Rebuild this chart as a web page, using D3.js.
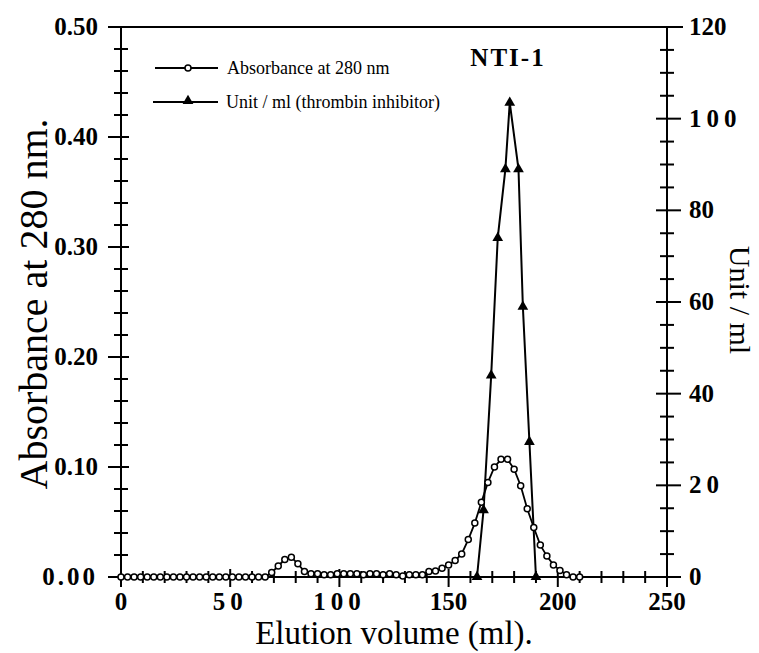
<!doctype html>
<html>
<head>
<meta charset="utf-8">
<title>NTI-1 elution profile</title>
<style>
  body { margin: 0; background: #fff; }
  svg text { font-family: "Liberation Serif", "Times New Roman", serif; fill: #000; }
  .tick-label { font-weight: bold; font-size: 25px; }
</style>
<script src="https://d3js.org/d3.v7.min.js"></script>
</head>
<body>
<svg width="759" height="653"></svg>
<script>

// elution volume (ml) of each absorbance fraction
var volume = [0, 3, 6, 9, 12, 15, 18, 21, 24, 27, 30, 33, 36, 39, 42, 45, 48, 51, 54, 57,
              60, 63, 66, 69, 72, 75, 78, 81, 84, 87, 90, 93, 96, 99, 102, 105, 108, 111, 114, 117,
              120, 123, 126, 129, 132, 135, 138, 141, 144, 147, 150, 153, 156, 159, 162, 165, 168, 171, 174, 177,
              180, 183, 186, 189, 192, 195, 198, 201, 204, 207, 210];
// absorbance at 280 nm
var absorbance = [0, 0, 0, 0, 0, 0, 0, 0, 0, 0, 0, 0, 0, 0, 0, 0, 0, 0, 0, 0,
                  0, 0, 0, 0.004, 0.010, 0.016, 0.018, 0.012, 0.005, 0.003, 0.003, 0.002, 0.002, 0.003, 0.003, 0.003, 0.003, 0.002, 0.003, 0.003,
                  0.002, 0.003, 0.002, 0.001, 0.002, 0.002, 0.002, 0.005, 0.0055, 0.008, 0.011, 0.015, 0.021, 0.034, 0.049, 0.068, 0.086, 0.100, 0.107, 0.107,
                  0.098, 0.083, 0.062, 0.045, 0.029, 0.019, 0.011, 0.006, 0.002, 0, 0];

// thrombin inhibitor activity
var unitVolume = [163, 166, 169.5, 172.5, 176, 178, 182, 184, 187, 190];
var unitPerMl = [0, 14.6, 44, 74, 89, 103.5, 89, 59, 29.5, 0];

var xMajor = [0, 50, 100, 150, 200, 250];
var xMinor = [10, 20, 30, 40, 60, 70, 80, 90, 110, 120, 130, 140, 160, 170, 180, 190, 210, 220, 230, 240];
var yLeftMajor = [0, 0.1, 0.2, 0.3, 0.4, 0.5];
var yLeftMinor = [0.02, 0.04, 0.06, 0.08, 0.12, 0.14, 0.16, 0.18, 0.22, 0.24, 0.26, 0.28, 0.32, 0.34, 0.36, 0.38, 0.42, 0.44, 0.46, 0.48];
var yRightMajor = [0, 20, 40, 60, 80, 100, 120];
var yRightMinor = [5, 10, 15, 25, 30, 35, 45, 50, 55, 65, 70, 75, 85, 90, 95, 105, 110, 115];

// labels printed with wide spacing in the original
var spacedX = [50, 100];
var spacedLeft = [0];
var spacedRight = [20, 100];

var svg = d3.select("svg");
var pl = 121, pr = 667, pt = 27, pb = 577;

var x = d3.scaleLinear().domain([0, 250]).range([pl, pr]);
var yA = d3.scaleLinear().domain([0, 0.5]).range([pb, pt]);
var yU = d3.scaleLinear().domain([0, 120]).range([pb, pt]);

var axes = svg.append("g").attr("stroke", "#000").attr("stroke-width", 2);

// frame
axes.append("line").attr("x1", pl).attr("x2", pr).attr("y1", pb).attr("y2", pb);
axes.append("line").attr("x1", pl - 13).attr("x2", pr + 16).attr("y1", pt).attr("y2", pt);
axes.append("line").attr("x1", pl).attr("x2", pl).attr("y1", pt).attr("y2", pb + 10);
axes.append("line").attr("x1", pr).attr("x2", pr).attr("y1", pt).attr("y2", pb + 10);

// bottom ticks
axes.selectAll(".xmaj").data(xMajor).enter().append("line")
  .attr("x1", function(d) { return x(d); }).attr("x2", function(d) { return x(d); })
  .attr("y1", pb - 8).attr("y2", pb + 10);
axes.selectAll(".xmin").data(xMinor).enter().append("line")
  .attr("x1", function(d) { return x(d); }).attr("x2", function(d) { return x(d); })
  .attr("y1", pb - 6).attr("y2", pb + 6);

// left ticks
axes.selectAll(".ylmaj").data(yLeftMajor).enter().append("line")
  .attr("x1", pl - 13).attr("x2", pl + 8)
  .attr("y1", function(d) { return yA(d); }).attr("y2", function(d) { return yA(d); });
axes.selectAll(".ylmin").data(yLeftMinor).enter().append("line")
  .attr("x1", pl - 7).attr("x2", pl + 7)
  .attr("y1", function(d) { return yA(d); }).attr("y2", function(d) { return yA(d); });

// right ticks
axes.selectAll(".yrmaj").data(yRightMajor).enter().append("line")
  .attr("x1", pr - 11).attr("x2", pr + 14)
  .attr("y1", function(d) { return yU(d); }).attr("y2", function(d) { return yU(d); });
axes.selectAll(".yrmin").data(yRightMinor).enter().append("line")
  .attr("x1", pr - 7).attr("x2", pr + 7)
  .attr("y1", function(d) { return yU(d); }).attr("y2", function(d) { return yU(d); });

// tick labels
svg.selectAll(".xl").data(xMajor).enter().append("text")
  .attr("class", "tick-label")
  .attr("x", function(d) { return x(d); }).attr("y", 610)
  .attr("text-anchor", "middle")
  .style("letter-spacing", function(d) { return spacedX.indexOf(d) >= 0 ? "5px" : "0px"; })
  .text(function(d) { return d; });

svg.selectAll(".yl").data(yLeftMajor).enter().append("text")
  .attr("class", "tick-label")
  .attr("x", 98).attr("y", function(d) { return yA(d) + 8; })
  .attr("text-anchor", "end")
  .style("letter-spacing", function(d) { return spacedLeft.indexOf(d) >= 0 ? "3px" : "0px"; })
  .text(function(d) { return d3.format(".2f")(d); });

svg.selectAll(".yr").data(yRightMajor).enter().append("text")
  .attr("class", "tick-label")
  .attr("x", 689).attr("y", function(d) { return yU(d) + 8; })
  .style("letter-spacing", function(d) { return spacedRight.indexOf(d) >= 0 ? "5px" : "0px"; })
  .text(function(d) { return d; });

// axis titles
svg.append("text").attr("x", 394).attr("y", 644).attr("text-anchor", "middle")
  .style("font-size", "33px").text("Elution volume (ml).");
svg.append("text").attr("transform", "translate(47,304) rotate(-90)").attr("text-anchor", "middle")
  .style("font-size", "40px").text("Absorbance at 280 nm.");
svg.append("text").attr("transform", "translate(730,300) rotate(90)").attr("text-anchor", "middle")
  .style("font-size", "30px").text("Unit / ml");

// title
svg.append("text").attr("x", 508).attr("y", 66).attr("text-anchor", "middle")
  .style("font-size", "25px").style("font-weight", "bold").style("letter-spacing", "2px")
  .text("NTI-1");

// data lines
var absLine = d3.line().x(function(d, i) { return x(volume[i]); }).y(function(d) { return yA(d); });
var unitLine = d3.line().x(function(d, i) { return x(unitVolume[i]); }).y(function(d) { return yU(d); });

svg.append("path").datum(unitPerMl).attr("d", unitLine)
  .attr("fill", "none").attr("stroke", "#000").attr("stroke-width", 2);
svg.append("path").datum(absorbance).attr("d", absLine)
  .attr("fill", "none").attr("stroke", "#000").attr("stroke-width", 1.8);

var tri = d3.symbol().type(d3.symbolTriangle).size(50);

svg.append("g").selectAll("path").data(unitPerMl).enter().append("path")
  .attr("d", tri)
  .attr("transform", function(d, i) { return "translate(" + x(unitVolume[i]) + "," + yU(d) + ")"; })
  .attr("fill", "#000");

svg.append("g").selectAll("circle").data(absorbance).enter().append("circle")
  .attr("cx", function(d, i) { return x(volume[i]); })
  .attr("cy", function(d) { return yA(d); })
  .attr("r", 3)
  .attr("fill", "#fff").attr("stroke", "#000").attr("stroke-width", 1.5);

// legend
var legend = svg.append("g").attr("stroke", "#000").attr("stroke-width", 2);
legend.append("line").attr("x1", 155).attr("x2", 218).attr("y1", 68).attr("y2", 68);
legend.append("line").attr("x1", 153).attr("x2", 218).attr("y1", 102).attr("y2", 102);
svg.append("circle").attr("cx", 188).attr("cy", 68).attr("r", 3)
  .attr("fill", "#fff").attr("stroke", "#000").attr("stroke-width", 1.5);
svg.append("path").attr("d", tri).attr("transform", "translate(188,101)").attr("fill", "#000");
svg.append("text").attr("x", 227).attr("y", 74).style("font-size", "18px").text("Absorbance at 280 nm");
svg.append("text").attr("x", 226).attr("y", 108).style("font-size", "18px").text("Unit / ml (thrombin inhibitor)");

</script>
</body>
</html>
